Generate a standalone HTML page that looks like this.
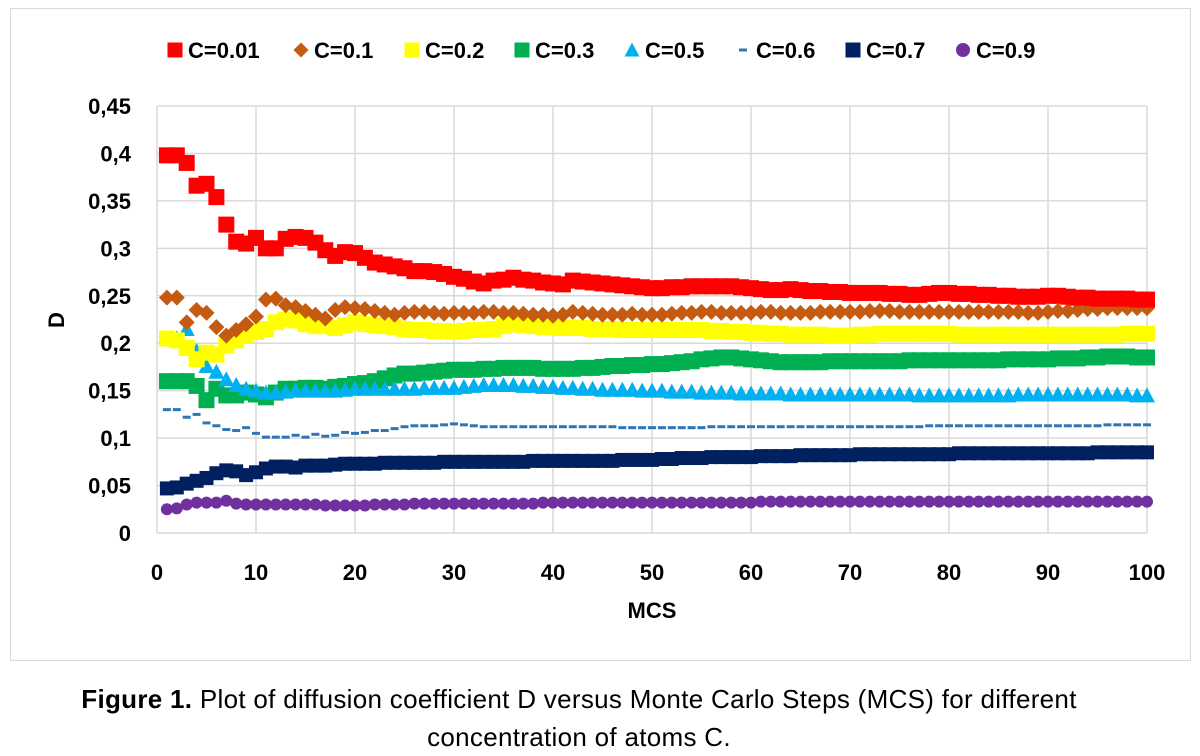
<!DOCTYPE html>
<html><head><meta charset="utf-8"><style>
body{margin:0;background:#fff;width:1200px;height:756px;overflow:hidden;font-family:"Liberation Sans",sans-serif}
#frame{position:absolute;left:10px;top:8px;width:1179px;height:651px;border:1px solid #d9d9d9}
.cap{position:absolute;left:0;width:1158px;text-align:center;font-size:26px;letter-spacing:0.3px;color:#000}
</style></head><body>
<div id="frame"></div>
<svg id="chart" width="1200" height="756" style="position:absolute;left:0;top:0"></svg>
<div class="cap" style="top:684px"><b>Figure 1.</b> Plot of diffusion coefficient D versus Monte Carlo Steps (MCS) for different</div>
<div class="cap" style="top:722px">concentration of atoms C.</div>
<script>
const xTicks=[0,10,20,30,40,50,60,70,80,90,100];
const yTicks=[0,0.05,0.1,0.15,0.2,0.25,0.3,0.35,0.4,0.45];
const yTickLabels=["0","0,05","0,1","0,15","0,2","0,25","0,3","0,35","0,4","0,45"];
const seriesNames=["C=0.01","C=0.1","C=0.2","C=0.3","C=0.5","C=0.6","C=0.7","C=0.9"];
const s001=[.398,.398,.390,.366,.368,.354,.325,.307,.305,.311,.300,.300,.310,.312,.311,.306,.298,.292,.296,.295,.290,.285,.283,.281,.279,.276,.276,.275,.273,.270,.268,.265,.263,.266,.267,.269,.267,.266,.264,.263,.262,.266,.265,.264,.263,.262,.261,.260,.259,.258,.258,.259,.259,.260,.260,.260,.260,.260,.259,.258,.257,.256,.256,.257,.256,.255,.255,.254,.254,.253,.253,.253,.253,.252,.252,.251,.251,.252,.253,.253,.252,.252,.251,.251,.250,.250,.249,.249,.249,.250,.250,.249,.248,.248,.247,.247,.247,.247,.246,.246];
const s01=[.248,.248,.222,.235,.232,.217,.208,.214,.220,.228,.246,.247,.240,.238,.234,.230,.226,.235,.238,.237,.236,.234,.232,.230,.232,.233,.233,.232,.231,.232,.232,.232,.233,.233,.232,.232,.231,.230,.230,.229,.230,.233,.232,.231,.230,.230,.230,.231,.230,.230,.230,.231,.232,.232,.233,.233,.232,.232,.232,.232,.233,.233,.232,.232,.232,.232,.233,.233,.233,.233,.233,.234,.234,.234,.233,.233,.233,.233,.233,.233,.233,.233,.233,.233,.233,.233,.233,.232,.232,.233,.234,.234,.235,.236,.236,.237,.237,.237,.237,.237];
const s02=[.205,.203,.195,.183,.190,.188,.198,.203,.208,.212,.215,.222,.225,.224,.220,.218,.218,.216,.219,.222,.220,.219,.218,.217,.215,.214,.214,.213,.213,.212,.213,.214,.214,.215,.218,.220,.219,.218,.217,.217,.216,.216,.216,.215,.215,.215,.214,.214,.214,.214,.214,.214,.214,.214,.214,.213,.213,.212,.212,.211,.211,.210,.210,.209,.209,.209,.209,.208,.208,.208,.209,.209,.210,.210,.210,.210,.210,.210,.210,.210,.209,.209,.209,.209,.209,.209,.209,.209,.209,.209,.209,.209,.209,.209,.209,.209,.209,.210,.210,.210];
const s03=[.160,.160,.160,.155,.140,.152,.145,.145,.148,.146,.143,.148,.152,.152,.153,.153,.152,.154,.155,.157,.158,.160,.163,.166,.168,.168,.169,.170,.171,.172,.172,.172,.173,.173,.174,.174,.174,.174,.173,.173,.173,.173,.174,.174,.175,.176,.176,.177,.177,.178,.178,.179,.180,.181,.183,.184,.185,.185,.184,.183,.182,.181,.180,.180,.180,.180,.180,.181,.181,.181,.181,.181,.181,.181,.181,.182,.182,.182,.182,.182,.182,.182,.182,.182,.182,.183,.183,.183,.183,.183,.184,.184,.184,.185,.185,.186,.186,.186,.185,.185];
const s05=[.205,.205,.215,.192,.176,.170,.162,.156,.152,.150,.148,.148,.149,.150,.150,.150,.150,.150,.151,.152,.152,.152,.152,.152,.152,.152,.153,.153,.153,.153,.154,.155,.156,.156,.156,.156,.155,.155,.154,.154,.153,.153,.152,.152,.151,.151,.151,.151,.150,.150,.150,.149,.149,.149,.148,.148,.148,.148,.147,.147,.147,.147,.147,.146,.146,.146,.146,.146,.146,.146,.146,.146,.146,.146,.146,.146,.145,.145,.145,.145,.145,.145,.145,.145,.145,.145,.146,.146,.146,.146,.146,.146,.146,.146,.146,.146,.146,.146,.145,.145];
const s06=[.130,.130,.122,.125,.116,.113,.109,.108,.111,.105,.101,.101,.101,.103,.101,.104,.102,.103,.106,.105,.106,.108,.108,.110,.112,.113,.113,.113,.114,.115,.114,.113,.112,.112,.112,.112,.112,.112,.112,.112,.112,.112,.112,.112,.112,.112,.111,.111,.111,.111,.111,.111,.111,.111,.111,.112,.112,.112,.112,.112,.112,.112,.112,.112,.112,.112,.112,.112,.112,.112,.112,.112,.112,.112,.112,.112,.112,.113,.113,.113,.113,.113,.113,.113,.113,.113,.113,.113,.113,.113,.113,.113,.113,.113,.113,.114,.114,.114,.114,.114];
const s07=[.047,.048,.052,.055,.058,.063,.066,.065,.061,.064,.068,.070,.070,.069,.071,.071,.071,.072,.073,.073,.073,.073,.074,.074,.074,.074,.074,.074,.075,.075,.075,.075,.075,.075,.075,.075,.075,.076,.076,.076,.076,.076,.076,.076,.076,.076,.077,.077,.077,.077,.078,.078,.079,.079,.079,.080,.080,.080,.080,.080,.081,.081,.081,.081,.082,.082,.082,.082,.082,.082,.083,.083,.083,.083,.083,.083,.083,.083,.083,.083,.084,.084,.084,.084,.084,.084,.084,.084,.084,.084,.084,.084,.084,.084,.085,.085,.085,.085,.085,.085];
const s09=[.025,.026,.030,.032,.032,.032,.034,.031,.030,.030,.030,.030,.030,.030,.030,.030,.029,.029,.029,.029,.029,.030,.030,.030,.030,.031,.031,.031,.031,.031,.031,.031,.031,.031,.031,.031,.031,.031,.032,.032,.032,.032,.032,.032,.032,.032,.032,.032,.032,.032,.032,.032,.032,.032,.032,.032,.032,.032,.032,.032,.033,.033,.033,.033,.033,.033,.033,.033,.033,.033,.033,.033,.033,.033,.033,.033,.033,.033,.033,.033,.033,.033,.033,.033,.033,.033,.033,.033,.033,.033,.033,.033,.033,.033,.033,.033,.033,.033,.033,.033];

const svg=document.getElementById('chart');
const NS='http://www.w3.org/2000/svg';
const X0=157,X1=1147,Y0=533,Y1=106;
const xs=v=>X0+(v/100)*(X1-X0);
const ys=v=>Y0-(v/0.45)*(Y0-Y1);
function mk(tag,at,txt){const e=document.createElementNS(NS,tag);for(const k in at)e.setAttribute(k,at[k]);if(txt!==undefined)e.textContent=txt;svg.appendChild(e);return e;}
yTicks.forEach((t,i)=>{
 const l=mk('line',{x1:X0,x2:X1,y1:ys(t),y2:ys(t),stroke:'#d9d9d9','stroke-width':1.5});
 
 
 const tx=mk('text',{x:131,y:ys(t)+8,'text-anchor':'end','font-size':22,'font-weight':'bold'},yTickLabels[i]);
 
 
});
xTicks.forEach(t=>{
 const l=mk('line',{x1:xs(t),x2:xs(t),y1:Y1,y2:Y0,stroke:'#d9d9d9','stroke-width':1.5});
 
 
 const tx=mk('text',{x:xs(t),y:580,'text-anchor':'middle','font-size':22,'font-weight':'bold'},String(t));
 
 
});
const xt=mk('text',{x:652,y:618,'text-anchor':'middle','font-size':22,'font-weight':'bold'},'MCS');


const yt=mk('text',{x:0,y:0,'text-anchor':'middle','font-size':22,'font-weight':'bold',transform:'translate(64,320) rotate(-90)'},'D');



function marker(kind,color,cx,cy,s){
 if(kind==='sq')return mk('rect',{x:cx-s/2,y:cy-s/2,width:s,height:s,fill:color});
 if(kind==='dia')return mk('polygon',{points:`${cx},${cy-s/2} ${cx+s/2},${cy} ${cx},${cy+s/2} ${cx-s/2},${cy}`,fill:color});
 if(kind==='tri')return mk('polygon',{points:`${cx},${cy-s/2} ${cx+s/2},${cy+s/2-1} ${cx-s/2},${cy+s/2-1}`,fill:color});
 if(kind==='dash')return mk('rect',{x:cx-4,y:cy-1.5,width:8,height:3,fill:color});
 return mk('circle',{cx:cx,cy:cy,r:s/2,fill:color});
}
const defs=[[s09,'circ','#7030a0',12],[s07,'sq','#002060',14],[s06,'dash','#2e75b6',8],[s03,'sq','#00b050',16],[s05,'tri','#00b0f0',16],[s02,'sq','#ffff00',16],[s01,'dia','#c55a11',16],[s001,'sq','#ff0000',16]];
const slugs={'#7030a0':'c09','#002060':'c07','#2e75b6':'c06','#00b050':'c03','#00b0f0':'c05','#ffff00':'c02','#c55a11':'c01','#ff0000':'c001'};
defs.forEach(([arr,kind,color,s])=>{
 arr.forEach((v,i)=>{
  const m=marker(kind,color,xs(i+1),ys(v),s);
  
  
 });
});
const legX=[167,293,404,514,624,735,845,955];
const legKinds=[['sq','#ff0000'],['dia','#c55a11'],['sq','#ffff00'],['sq','#00b050'],['tri','#00b0f0'],['dash','#2e75b6'],['sq','#002060'],['circ','#7030a0']];
seriesNames.forEach((n,i)=>{
 const m=marker(legKinds[i][0],legKinds[i][1],legX[i]+8,50,legKinds[i][0]==='circ'?14:15);
 
 
 const t=mk('text',{x:legX[i]+21,y:58,'font-size':22,'font-weight':'bold'},n);
 
 
});
</script>
</body></html>
